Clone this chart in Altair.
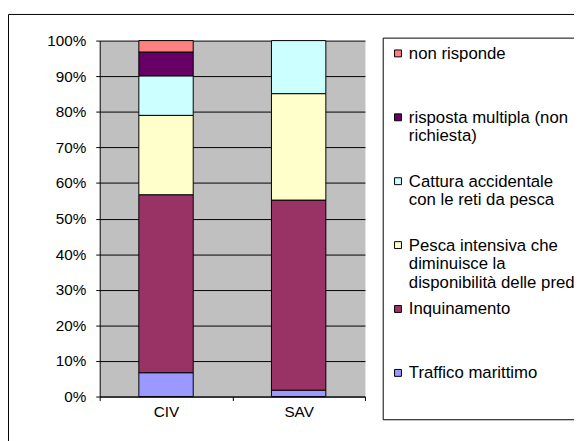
import altair as alt
import pandas as pd

# ---- data ----
groups = ["CIV", "SAV"]
series = [
    "Traffico marittimo",
    "Inquinamento",
    "Pesca intensiva che\ndiminuisce la\ndisponibilità delle prede",
    "Cattura accidentale\ncon le reti da pesca",
    "risposta multipla (non\nrichiesta)",
    "non risponde",
]
colors = ["#9999FF", "#993366", "#FFFFCC", "#CCFFFF", "#660066", "#FF8080"]
civ_values = [6.7, 50.0, 22.3, 11.1, 6.7, 3.2]
sav_values = [1.8, 53.4, 29.9, 14.9, 0.0, 0.0]
y_ticks = [0.0, 0.1, 0.2, 0.3, 0.4, 0.5, 0.6, 0.7, 0.8, 0.9, 1.0]

rows = []
for g, vals in zip(groups, [civ_values, sav_values]):
    for i, (s, v) in enumerate(zip(series, vals)):
        if v > 0:
            rows.append({"gruppo": g, "serie": s, "ordine": i, "valore": v})
df = pd.DataFrame(rows)

FONT = "Liberation Sans, Arial"

bars = alt.Chart(df).mark_bar(
    stroke="black", strokeWidth=1, width=alt.RelativeBandSize(0.41)
).encode(
    x=alt.X(
        "gruppo:N",
        sort=groups,
        scale=alt.Scale(paddingInner=0, paddingOuter=0),
        axis=alt.Axis(
            title=None, labelAngle=0, tickBand="extent", grid=False,
            tickSize=4, labelPadding=4,
        ),
    ),
    y=alt.Y(
        "valore:Q",
        stack="normalize",
        scale=alt.Scale(domain=[0, 1]),
        axis=alt.Axis(
            title=None, format=".0%", values=y_ticks, grid=True,
            gridColor="black", gridWidth=1, gridOpacity=1,
            tickSize=4, labelPadding=10,
        ),
    ),
    color=alt.Color(
        "serie:N",
        scale=alt.Scale(domain=series[::-1], range=colors[::-1]),
        legend=alt.Legend(
            title=None,
            orient="none",
            legendX=287,
            legendY=-3,
            direction="vertical",
            labelFont=FONT,
            labelFontSize=17,
            labelColor="black",
            labelExpr="slice(split(datum.label + '\\n\\n', '\\n'), 0, 3)",
            labelBaseline="top",
            labelLimit=800,
            labelOffset=2.5,
            symbolType="M-1,1.14H1V3.14H-1Z",
            symbolSize=49,
            symbolStrokeColor="black",
            symbolStrokeWidth=1,
            symbolOffset=7,
            padding=0,
            rowPadding=1.8,
            strokeColor="black",
            fillColor="white",
            gridAlign="all",
        ),
    ),
    order=alt.Order("ordine:Q", sort="ascending"),
)

frame_df = pd.DataFrame({"k": [0]})
frame_left = alt.Chart(frame_df).mark_rule(color="black", strokeWidth=1).encode(
    x=alt.value(-92.5), y=alt.value(-26.5), y2=alt.value(420)
)
frame_top = alt.Chart(frame_df).mark_rule(color="black", strokeWidth=1).encode(
    x=alt.value(-92.5), x2=alt.value(500), y=alt.value(-26.5)
)

chart = alt.layer(bars, frame_left, frame_top).properties(
    width=269,
    height=361,
    padding={"left": 93, "top": 30, "right": 212, "bottom": 42},
    autosize=alt.AutoSizeParams(type="none"),
).configure_view(
    fill="#C0C0C0", stroke="transparent"
).configure_axis(
    labelFont=FONT, labelFontSize=15.5, labelColor="black",
    domainColor="black", tickColor="black", domainWidth=1, tickWidth=1,
)

chart.save("out.html", embed_options={"renderer": "svg", "actions": False})
